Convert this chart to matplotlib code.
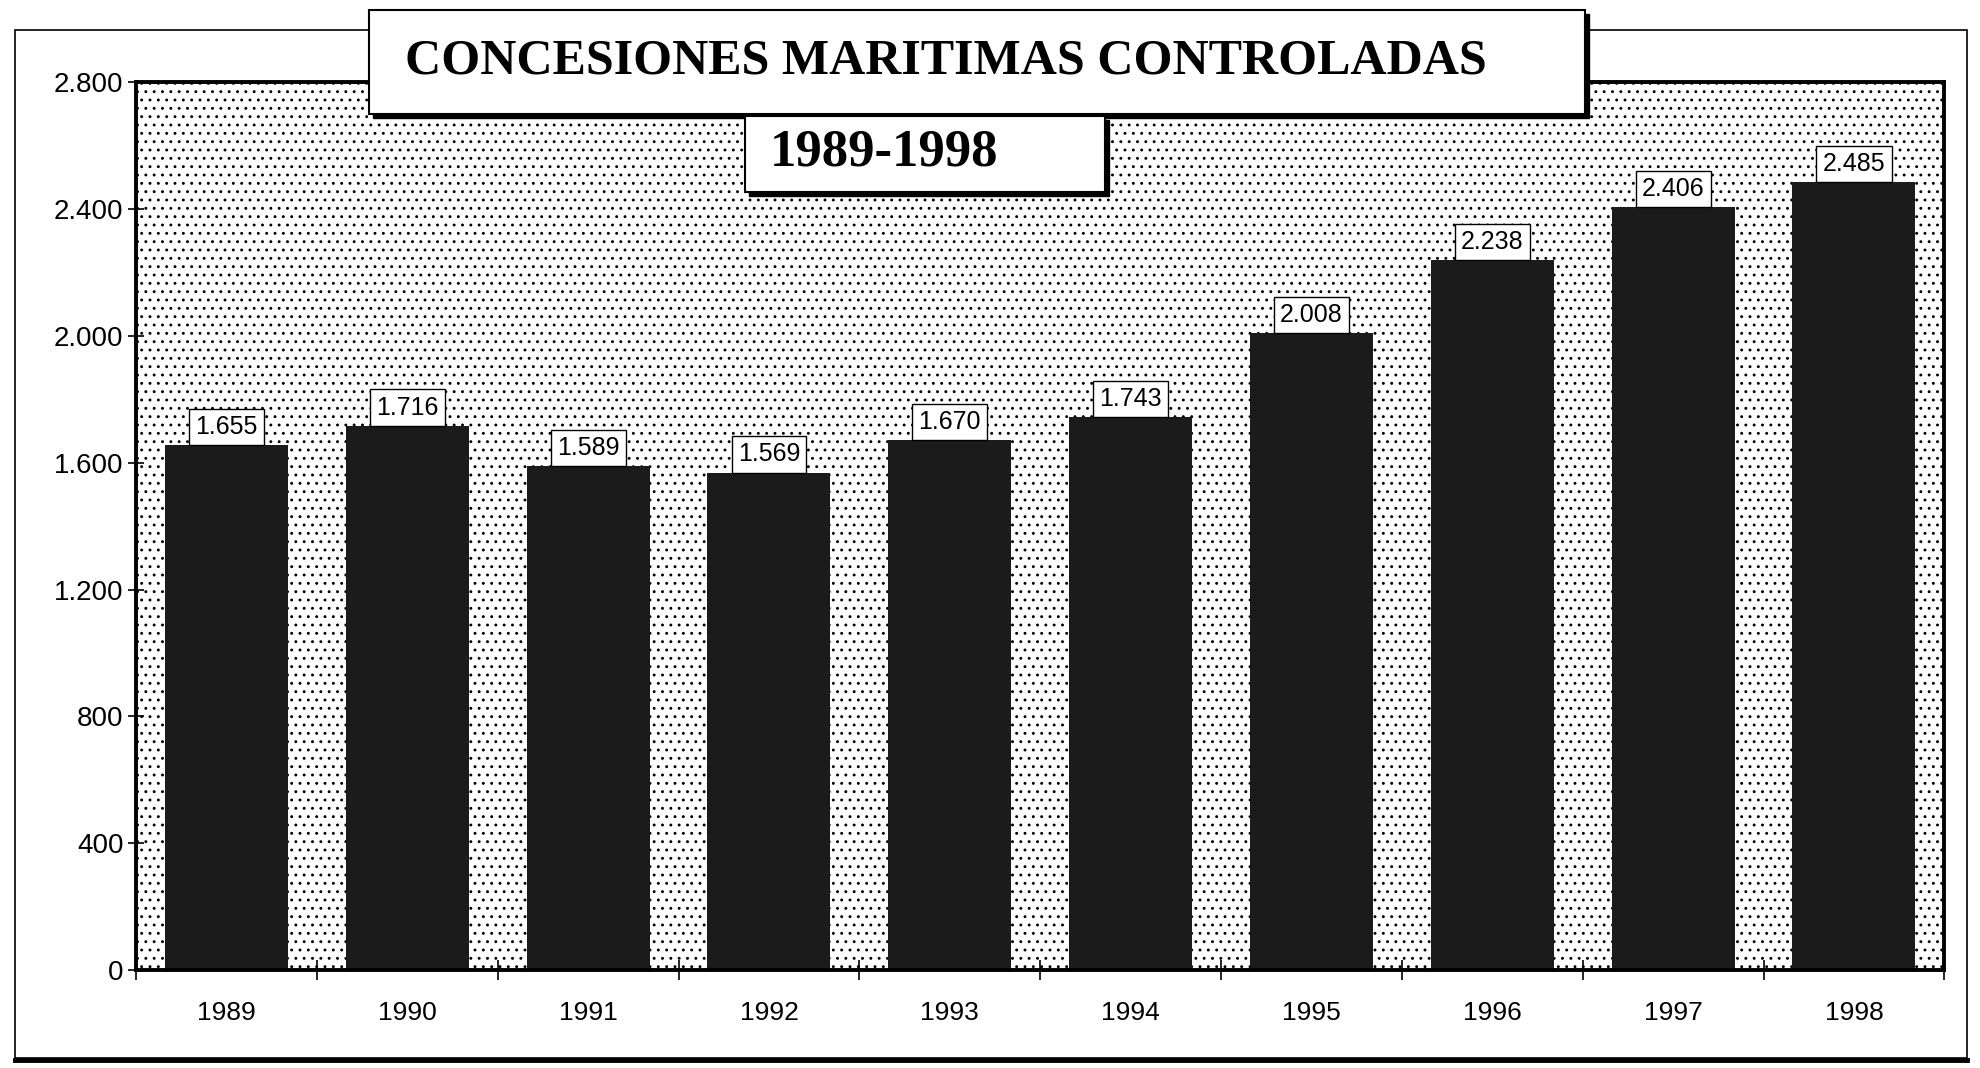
import numpy as np
import matplotlib
matplotlib.use("Agg")
import matplotlib.pyplot as plt
from matplotlib.patches import Rectangle
from matplotlib.lines import Line2D

# datos del grafico
años = ["1989", "1990", "1991", "1992", "1993", "1994", "1995", "1996", "1997", "1998"]
concesiones = [1655, 1716, 1589, 1569, 1670, 1743, 2008, 2238, 2406, 2485]
etiquetas = ["1.655", "1.716", "1.589", "1.569", "1.670", "1.743", "2.008", "2.238", "2.406", "2.485"]
yticks = [0, 400, 800, 1200, 1600, 2000, 2400, 2800]
ytick_labels = ["0", "400", "800", "1.200", "1.600", "2.000", "2.400", "2.800"]

titulo = "CONCESIONES MARITIMAS CONTROLADAS"
subtitulo = "1989-1998"

plt.rcParams['font.family'] = ['Liberation Sans', 'DejaVu Sans']
plt.rcParams['hatch.color'] = 'black'
plt.rcParams['hatch.linewidth'] = 0.9

fig = plt.figure(figsize=(19.8, 10.68), dpi=100)
ax = fig.add_axes([0.0687, 0.0918, 0.9133, 0.8312])

# fondo punteado
ax.set_facecolor('white')
ax.patch.set_hatch('..')
ax.patch.set_edgecolor('black')

X = np.arange(len(años))
ax.bar(X, concesiones, width=0.68, color='#1b1b1b', zorder=2)

for x, v, t in zip(X, concesiones, etiquetas):
    ax.annotate(t, (x, v), xytext=(0, 4.5), textcoords='offset points',
                ha='center', va='bottom', fontsize=18, zorder=4,
                bbox=dict(boxstyle='square,pad=0.25', fc='white', ec='black', lw=1.0))

ax.set_xlim(-0.5, len(años) - 0.5)
ax.set_ylim(0, 2800)

ax.set_yticks(yticks)
ax.set_yticklabels(ytick_labels, fontsize=20)
ax.tick_params(axis='y', direction='inout', length=12, width=1.2, pad=3)

ax.set_xticks(np.arange(len(años) + 1) - 0.5)
ax.set_xticklabels([])
ax.set_xticks(X, minor=True)
ax.set_xticklabels(años, minor=True, fontsize=19)
ax.tick_params(axis='x', which='major', direction='inout', length=14, width=1.2)
ax.tick_params(axis='x', which='minor', length=0, pad=22)

for s in ax.spines.values():
    s.set_linewidth(2.8)
    s.set_zorder(3)

# marco exterior
fig.add_artist(Rectangle((15/1980, 1 - 1058/1068), 1952/1980, 1028/1068,
                         transform=fig.transFigure, fill=False, ec='black', lw=1.2))
fig.add_artist(Line2D([15/1980, 1967/1980], [1 - 1060/1068] * 2,
                      transform=fig.transFigure, color='black', lw=3.5))

# cuadro del titulo con sombra
def cuadro(x0, y0, x1, y1):
    fx0, fx1 = x0 / 1980, x1 / 1980
    fy0, fy1 = 1 - y1 / 1068, 1 - y0 / 1068
    fig.add_artist(Rectangle((fx0 + 4/1980, fy0 - 4/1068), fx1 - fx0, fy1 - fy0,
                             transform=fig.transFigure, fc='black', ec='black', zorder=5))
    fig.add_artist(Rectangle((fx0, fy0), fx1 - fx0, fy1 - fy0,
                             transform=fig.transFigure, fc='white', ec='black', lw=1.5, zorder=6))

cuadro(369, 10, 1585, 114)
cuadro(745, 116, 1105, 192)

fig.text(946/1980, 1 - 62/1068, titulo, ha='center', va='center', fontsize=36,
         family='Liberation Serif', weight='bold', zorder=7)
fig.text(884/1980, 1 - 152/1068, subtitulo, ha='center', va='center', fontsize=38,
         family='Liberation Serif', weight='bold', zorder=7)

fig.savefig('out.png', dpi=100)
